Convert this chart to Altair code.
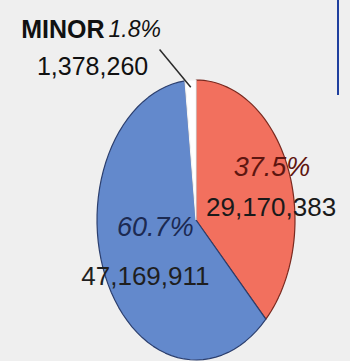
import altair as alt
import pandas as pd

# ---- data ----
names = ["Red", "Blue", "Minor"]
values = [29170383, 47169911, 1378260]
pct_labels = ["37.5%", "60.7%", "1.8%"]
count_labels = ["29,170,383", "47,169,911", "1,378,260"]
order = [0, 1, 2]

fill_colors = ["#f2705e", "#6389cc", "#ffffff"]
stroke_colors = ["#7a2a20", "#2c3f6e", "#f4f4f4"]

df = pd.DataFrame({"name": names, "value": values, "pct": pct_labels,
                   "count": count_labels, "ord": order})

W, H = 350, 361
CX, CY, RX, RY = 196, 220, 99, 140  # ellipse geometry in pixels (layout)
xdom = [-CX / RX, (W - CX) / RX]
ydom = [(CY - H) / RY, CY / RY]
xs = alt.Scale(domain=xdom, nice=False, zero=False)
ys = alt.Scale(domain=ydom, nice=False, zero=False)

base = alt.Chart(df).transform_joinaggregate(
    total="sum(value)"
).transform_window(
    cum="sum(value)", sort=[alt.SortField("ord")], frame=[None, 0]
).transform_calculate(
    a0="2*PI*(datum.cum - datum.value)/datum.total",
    a1="2*PI*datum.cum/datum.total",
).transform_calculate(
    mid="(datum.a0 + datum.a1)/2"
)

N = 60
slices = base.transform_calculate(
    k=f"sequence(0, {N + 2})"
).transform_flatten(["k"]).transform_calculate(
    ang=f"datum.a0 + (datum.a1 - datum.a0)*clamp(datum.k - 1, 0, {N - 1})/{N - 1}",
    r=f"(datum.k == 0 || datum.k == {N + 1}) ? 0 : 1",
).transform_calculate(
    u="datum.r*sin(datum.ang)",
    v="datum.r*cos(datum.ang)",
).mark_line(strokeWidth=1.2, strokeJoin="round").encode(
    x=alt.X("u:Q", scale=xs, axis=None),
    y=alt.Y("v:Q", scale=ys, axis=None),
    order=alt.Order("k:Q"),
    detail="name:N",
    fill=alt.Fill("name:N", scale=alt.Scale(domain=names, range=fill_colors), legend=None),
    stroke=alt.Stroke("name:N", scale=alt.Scale(domain=names, range=stroke_colors), legend=None),
)

# label anchors derived from each slice's mid angle
anchors = base.transform_calculate(
    lr="datum.name == 'Red' ? 0.7 : (datum.name == 'Blue' ? 0.5 : 1.22)",
).transform_calculate(
    lu="datum.lr*sin(datum.mid) - (datum.name == 'Minor' ? 0.3 : 0)",
    lv="datum.lr*cos(datum.mid)",
    ru="sin(datum.mid)*0.95",
    rv="cos(datum.mid)*0.95",
)

FONT = "Liberation Sans Narrow, Liberation Sans, Arial, sans-serif"

def txt(name, field, dx, dy, size, color, style="normal", weight="normal", align="center"):
    return anchors.transform_filter(f"datum.name == '{name}'").mark_text(
        font=FONT, fontSize=size, fontStyle=style, fontWeight=weight,
        color=color, dx=dx, dy=dy, align=align, baseline="middle"
    ).encode(
        x=alt.X("lu:Q", scale=xs, axis=None),
        y=alt.Y("lv:Q", scale=ys, axis=None),
        text=f"{field}:N",
    )

leader = anchors.transform_filter("datum.name == 'Minor'").mark_rule(
    color="#2a2a2a", strokeWidth=1.5
).encode(
    x=alt.X("lu:Q", scale=xs, axis=None),
    y=alt.Y("lv:Q", scale=ys, axis=None),
    x2="ru:Q",
    y2="rv:Q",
)

minor_word = anchors.transform_filter("datum.name == 'Minor'").transform_calculate(
    word="'MINOR'"
).mark_text(
    font=FONT, fontSize=25, fontWeight="bold", color="#111111",
    dx=-55, dy=-19, align="right", baseline="middle"
).encode(
    x=alt.X("lu:Q", scale=xs, axis=None),
    y=alt.Y("lv:Q", scale=ys, axis=None),
    text="word:N",
)

texts = [
    txt("Red", "pct", 12, -15, 27, "#5e1610", style="italic"),
    txt("Red", "count", 11, 25, 26, "#1a1a1a"),
    txt("Blue", "pct", 4, -22, 27, "#1c2a52", style="italic"),
    txt("Blue", "count", -6, 27, 26, "#1f1f1f"),
    txt("Minor", "pct", -51, -19, 23, "#111111", style="italic", align="left"),
    txt("Minor", "count", -67, 18, 25, "#111111"),
]

side_rule = alt.Chart(df).mark_rule(color="#1f3f9e", strokeWidth=2).encode(
    x=alt.value(338), y=alt.value(0), y2=alt.value(95)
).transform_filter("datum.ord == 0")

chart = alt.layer(slices, leader, minor_word, *texts, side_rule).properties(
    width=W, height=H, padding=0, autosize=alt.AutoSizeParams(type="none"),
    background="#efefef",
).configure_view(stroke=None)

chart.save("out.html", embed_options={"renderer": "svg", "actions": False})
